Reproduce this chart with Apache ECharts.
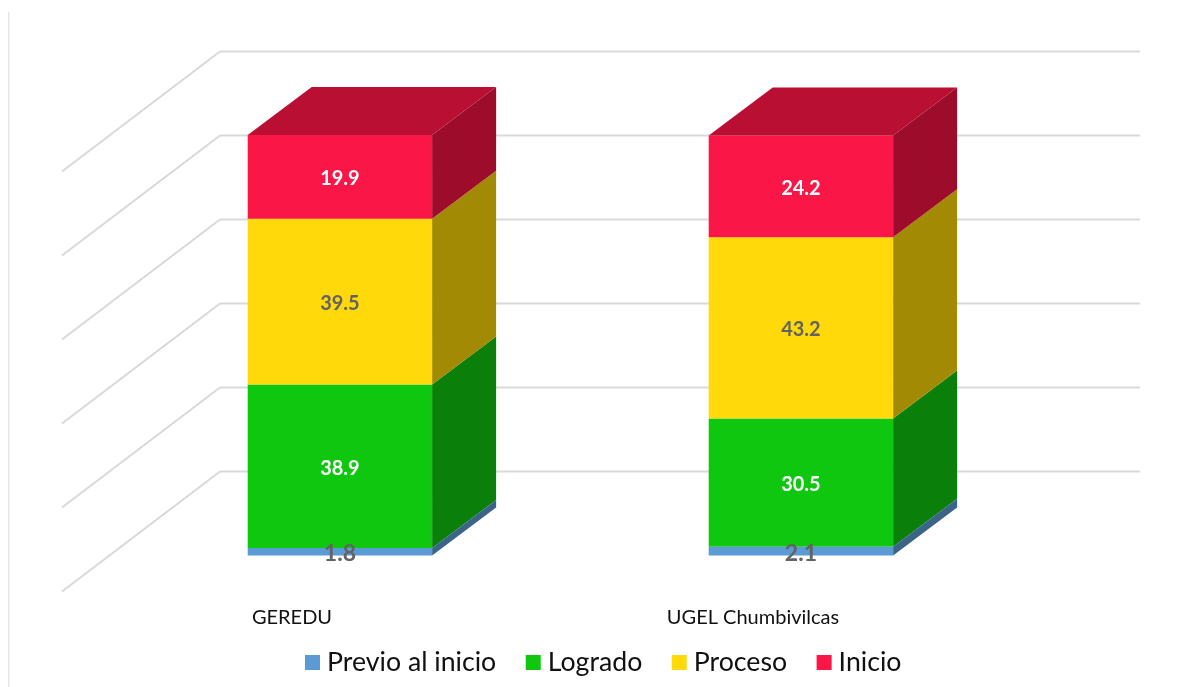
<!DOCTYPE html>
<html>
<head>
<meta charset="utf-8">
<style>html,body{margin:0;padding:0;background:#fff}#c{width:1177px;height:687px}</style>
<script src="https://cdn.jsdelivr.net/npm/echarts@6/dist/echarts.min.js"></script>
</head>
<body>
<div id="c"></div>
<script>
const categories = ['GEREDU', 'UGEL Chumbivilcas'];
const seriesNames = ['Previo al inicio', 'Logrado', 'Proceso', 'Inicio'];
const previo = [1.8, 2.1];
const logrado = [38.9, 30.5];
const proceso = [39.5, 43.2];
const inicio = [19.9, 24.2];
const yTicks = [0, 20, 40, 60, 80, 100];

const seriesValues = [previo, logrado, proceso, inicio];
const frontColors = ['#5B9BD5', '#0FC70F', '#FFD90A', '#FA1747'];
const sideColors = ['#3B6489', '#0A7F0A', '#A38A04', '#9E0C2B'];
const topColor = '#B80F33';
const labelColors = ['#636363', '#FFFFFF', '#636363', '#FFFFFF'];
const labelSizes = [23, 20, 20, 20];

// Oblique projection: the grid is the back wall, the floor runs towards the viewer.
const DEPTH_X = -158, DEPTH_Y = 120;
const WALL_WIDTH = 920, WALL_DY = 0.5;
const FX = -110.6, FY = 84.5;   // front face offset from the back wall
const BAR_DX = 64, BAR_DY = -48; // depth of a bar

function baseOf(s, i) {
  let b = 0;
  for (let k = 0; k < s; k++) b += seriesValues[k][i];
  return b;
}

function renderBar(s) {
  return function (params, api) {
    const i = api.value(0);
    const base = api.value(1), top = api.value(2);
    const w = api.size([1, 0])[0] * 0.4;
    const pb = api.coord([i, base]), pt = api.coord([i, top]);
    const xl = pb[0] - w / 2 + FX, xr = pb[0] + w / 2 + FX;
    const yb = pb[1] + FY, yt = pt[1] + FY;
    const children = [
      { type: 'polygon', shape: { points: [[xr, yb], [xr, yt], [xr + BAR_DX, yt + BAR_DY], [xr + BAR_DX, yb + BAR_DY]] },
        style: { fill: sideColors[s] } },
      { type: 'rect', shape: { x: xl, y: yt, width: w, height: yb - yt },
        style: { fill: frontColors[s] } }
    ];
    if (s === seriesValues.length - 1) {
      children.push({ type: 'polygon', shape: { points: [[xl, yt], [xr, yt], [xr + BAR_DX, yt + BAR_DY], [xl + BAR_DX, yt + BAR_DY]] },
        style: { fill: topColor } });
    }
    children.push({ type: 'text', x: (xl + xr) / 2, y: (yb + yt) / 2 + 2,
      style: { text: api.value(3).toFixed(1), fill: labelColors[s], align: 'center', verticalAlign: 'middle',
        font: 'bold ' + labelSizes[s] + 'px Lato' } });
    return { type: 'group', children };
  };
}

function renderWall(params, api) {
  const p = api.coord([0, api.value(0)]);
  const w = api.size([1, 0])[0];
  const x0 = p[0] - w / 2, y0 = p[1] + WALL_DY;
  const style = { stroke: '#D9D9D9', lineWidth: 2 };
  return { type: 'group', children: [
    { type: 'line', shape: { x1: x0, y1: y0, x2: x0 + DEPTH_X, y2: y0 + DEPTH_Y }, style },
    { type: 'line', shape: { x1: x0, y1: y0, x2: x0 + WALL_WIDTH, y2: y0 }, style }
  ] };
}

const series = [{
  type: 'custom', name: 'wall', silent: true, z: 1,
  renderItem: renderWall, data: yTicks.map(v => [v]), encode: { y: 0 }
}];
seriesNames.forEach((name, s) => {
  series.push({
    type: 'custom', name, z: s === 0 ? 10 : 2 + s, silent: true,
    itemStyle: { color: frontColors[s] },
    renderItem: renderBar(s),
    encode: { x: 0, y: 2 },
    data: categories.map((c, i) => [i, baseOf(s, i), baseOf(s, i) + seriesValues[s][i], seriesValues[s][i]])
  });
});

const chart = echarts.init(document.getElementById('c'), null, { renderer: 'canvas' });
chart.setOption({
  animation: false,
  backgroundColor: '#FFFFFF',
  textStyle: { fontFamily: 'Lato' },
  grid: { left: 220, right: 35, top: 51, bottom: 216 },
  legend: {
    data: seriesNames, left: 305, top: 649, padding: 0, icon: 'rect', itemWidth: 15, itemHeight: 15,
    itemGap: 29.5, selectedMode: false,
    textStyle: { fontFamily: 'Lato', fontSize: 26.7, color: '#111111', padding: [0, 0, 0, 2] }
  },
  graphic: [{ type: 'rect', shape: { x: 8, y: 12, width: 1.5, height: 675 }, style: { fill: '#E6E6E6' }, silent: true }],
  xAxis: {
    type: 'category', data: categories,
    axisLine: { show: false }, axisTick: { show: false }, splitLine: { show: false },
    axisLabel: { margin: 136.5, fontFamily: 'Lato', fontSize: 20, color: '#111111', padding: [0, 317, 0, 0], hideOverlap: false, interval: 0 }
  },
  yAxis: {
    type: 'value', min: 0, max: 100, interval: 20,
    axisLine: { show: false }, axisTick: { show: false }, axisLabel: { show: false },
    splitLine: { show: false }
  },
  series
});
</script>
</body>
</html>
